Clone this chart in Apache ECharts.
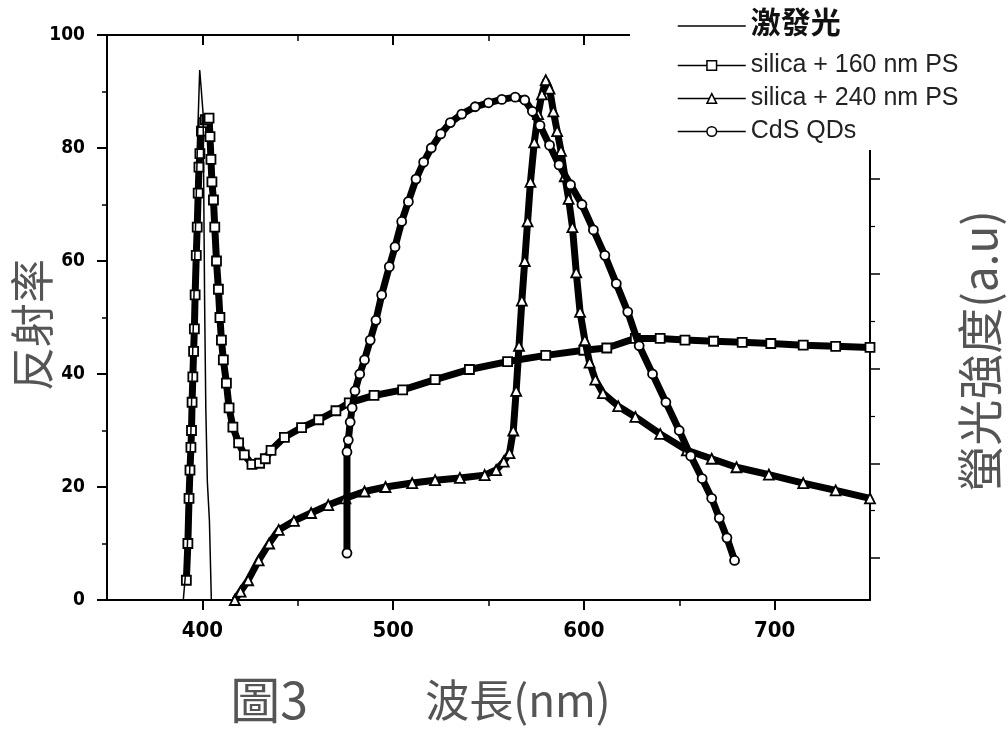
<!DOCTYPE html>
<html><head><meta charset="utf-8">
<script src="https://cdn.jsdelivr.net/npm/echarts@6/dist/echarts.min.js"></script>
<style>html,body{margin:0;padding:0;background:#fff}#c{width:1008px;height:731px}</style>
</head><body><div id="c"></div>
<script>
const seriesNames = ['激發光', 'silica + 160 nm PS', 'silica + 240 nm PS', 'CdS QDs'];
const xMajorTicks = [400, 500, 600, 700];
const xMinorTicks = [450, 550, 650];
const rightMajorTicks = [7.4, 24.2, 41.0, 57.8, 74.6];
const rightMinorTicks = [15.8, 32.6, 49.4, 66.2];

const excitX = [390, 392, 394, 396, 397.5, 398.6, 399.5, 400.4, 401.2, 401.8, 402.6, 403.7, 404.7];
const excitY = [0, 8, 30, 60, 82, 93.8, 90, 86, 52, 34, 21, 14, 0];

const sq160X = [391.6,392.4,393,393.5,394,394.3,394.6,395,395.4,395.8,396.2,396.8,397.3,397.8,398.2,398.7,399.5,400.5,401.5,402.5,403.5,404,404.5,405,405.8,406.5,407.4,408.4,409.2,410,411,412.6,414,416,419,422,426,430,433,436,443,452,461,470,477,490,505,522,540,560,580,600,612,627,640,653,668,683,698,715,732,750];
const sq160Y = [3.5,10,18,23,27,30,35,39.5,44,48,54,61,66,72,76.6,79,83,84.5,85,85,85.3,82,78,74,70.8,66,60,55,50,46,42.5,38.4,34,30.6,27.8,25.7,24,24.2,25,26.5,28.8,30.5,31.9,33.5,34.9,36.2,37.2,39,40.8,42.2,43.3,44.2,44.6,46.3,46.3,46,45.8,45.6,45.4,45.1,44.9,44.7];

const tr240X = [417,420,424,429.5,435,440,448,457,466,475,485,496,510,522,535,548,554,558,561,563,564.5,566,567.5,569,570.5,572,574,576,578,580,582,584,586,588,590,592,594,596,598,600.5,603,606,610,618,627,640,654,667,680,697,715,732,750];
const tr240Y = [0,1.5,3.5,7,10,12.4,14,15.4,16.8,18,19.2,20,20.7,21.2,21.6,22.1,23,24.5,26,30,37,45,53,60,67,74,81,86,89.5,92,90.5,86.5,83,79.5,75,71,66,58,51,46,42,39,36.6,34.3,32.4,29.4,26.5,25,23.5,22.2,20.7,19.4,18];

const cdsX = [475.8,475.8,476.5,477.5,478.5,480,482.5,485,488,491,494,498,501,504.5,508,512,516,520,525,530,536,543,550,557,564,569,573,577,582,587,593,599,605,611,617,623,629,636,643,650,656,662,667,671,675,679];
const cdsY = [8.3,26.2,28.3,31.5,34,37,40,42.5,46,49.5,54,59,62.5,67,70.5,74.5,77.5,80,82.5,84.5,86,87.3,88,88.6,89,88.5,86.5,84,80.5,77,73.5,70,65.5,61,56,51,45,40,35,30,25.5,21.5,18,14.5,11,7];

function pairs(xs, ys) { return xs.map((x, i) => [x, ys[i]]); }

const chart = echarts.init(document.getElementById('c'), null, {renderer: 'canvas'});
const black = '#000';
const tickFont = 'DejaVu Sans Condensed';
const markerStyle = {color: '#fff', borderColor: black, borderWidth: 1.8};

const option = {
  animation: false,
  backgroundColor: '#fff',
  grid: {left: 107, top: 35, width: 763, height: 565},
  xAxis: [
    {type: 'value', min: 350, max: 750, position: 'bottom',
     axisLine: {onZero: false, lineStyle: {color: black, width: 2}},
     axisTick: {customValues: xMajorTicks, length: 10, lineStyle: {color: black, width: 2}},
     axisLabel: {customValues: xMajorTicks, margin: 20, fontSize: 22, fontWeight: 'bold', fontFamily: tickFont, color: black},
     splitLine: {show: false}},
    {type: 'value', min: 350, max: 750, position: 'bottom',
     axisLine: {show: false, onZero: false},
     axisTick: {customValues: xMinorTicks, length: 6, lineStyle: {color: black, width: 1.5}},
     axisLabel: {show: false}, splitLine: {show: false}},
    {type: 'value', min: 350, max: 750, position: 'top',
     axisLine: {onZero: false, lineStyle: {color: black, width: 2}},
     axisTick: {inside: true, customValues: xMajorTicks, length: 10, lineStyle: {color: black, width: 2}},
     axisLabel: {show: false}, splitLine: {show: false}},
    {type: 'value', min: 350, max: 750, position: 'top',
     axisLine: {show: false, onZero: false},
     axisTick: {inside: true, customValues: xMinorTicks, length: 6, lineStyle: {color: black, width: 1.5}},
     axisLabel: {show: false}, splitLine: {show: false}}
  ],
  yAxis: [
    {type: 'value', min: 0, max: 100, interval: 20, position: 'left',
     axisLine: {show: true, onZero: false, lineStyle: {color: black, width: 2}},
     axisTick: {show: true, length: 10, lineStyle: {color: black, width: 2}},
     minorTick: {show: true, splitNumber: 2, length: 5, lineStyle: {color: black, width: 1.5}},
     axisLabel: {margin: 22, fontSize: 19, fontWeight: 'bold', fontFamily: tickFont, color: black},
     splitLine: {show: false}},
    {type: 'value', min: 0, max: 100, position: 'right',
     axisLine: {show: true, onZero: false, lineStyle: {color: black, width: 2}},
     axisTick: {show: true, customValues: rightMajorTicks, length: 10, lineStyle: {color: black, width: 1.5}},
     axisLabel: {show: false}, splitLine: {show: false}},
    {type: 'value', min: 0, max: 100, position: 'right',
     axisLine: {show: false, onZero: false},
     axisTick: {show: true, customValues: rightMinorTicks, length: 5, lineStyle: {color: black, width: 1.2}},
     axisLabel: {show: false}, splitLine: {show: false}}
  ],
  legend: {
    data: [{name: seriesNames[0], itemStyle: {opacity: 0, borderWidth: 0}},
           seriesNames[1], seriesNames[2], seriesNames[3]],
    orient: 'vertical', left: 630, top: 0,
    padding: [7, 10, 6, 47], backgroundColor: '#fff',
    itemWidth: 68, itemHeight: 12, itemGap: 8,
    lineStyle: {width: 1.5, color: black}, itemStyle: {borderWidth: 1.5},
    formatter: n => n === '激發光' ? '{big|' + n + '}' : n,
    textStyle: {fontSize: 25, color: '#222', fontFamily: 'Liberation Sans',
      rich: {big: {fontSize: 30, lineHeight: 32, padding: [0, 0, 8, 0], fontWeight: 'bold', color: '#111', fontFamily: 'Noto Sans CJK TC'}}}
  },
  graphic: [
    {type: 'text', x: 32, y: 325, rotation: Math.PI / 2,
     style: {text: '反射率', fontSize: 44, fontFamily: 'Noto Sans CJK TC', fill: '#555', align: 'center', verticalAlign: 'middle'}},
    {type: 'text', x: 980, y: 351, rotation: Math.PI / 2,
     style: {text: '螢光強度(a.u)', fontSize: 46, fontFamily: 'Noto Sans CJK TC', fill: '#555', align: 'center', verticalAlign: 'middle'}},
    {type: 'text', x: 518, y: 700,
     style: {text: '波長(nm)', fontSize: 44, fontFamily: 'Noto Sans CJK TC', fill: '#555', align: 'center', verticalAlign: 'middle'}},
    {type: 'text', x: 269, y: 700,
     style: {text: '圖3', fontSize: 50, fontFamily: 'Noto Sans CJK TC', fill: '#555', align: 'center', verticalAlign: 'middle'}}
  ],
  series: [
    {name: seriesNames[0], type: 'line', xAxisIndex: 0, yAxisIndex: 0, data: pairs(excitX, excitY),
     symbol: 'none', itemStyle: {color: black}, lineStyle: {color: black, width: 1.5}, z: 6},
    {name: seriesNames[1], type: 'line', xAxisIndex: 0, yAxisIndex: 0, data: pairs(sq160X, sq160Y),
     symbol: 'rect', symbolSize: 9, itemStyle: markerStyle, lineStyle: {color: black, width: 7}, z: 3},
    {name: seriesNames[2], type: 'line', xAxisIndex: 0, yAxisIndex: 0, data: pairs(tr240X, tr240Y),
     symbol: 'triangle', symbolSize: 10, itemStyle: markerStyle, lineStyle: {color: black, width: 7}, z: 4},
    {name: seriesNames[3], type: 'line', xAxisIndex: 0, yAxisIndex: 1, data: pairs(cdsX, cdsY),
     symbol: 'circle', symbolSize: 9, itemStyle: markerStyle, lineStyle: {color: black, width: 7}, z: 5}
  ]
};
chart.setOption(option);
</script>
</body></html>
